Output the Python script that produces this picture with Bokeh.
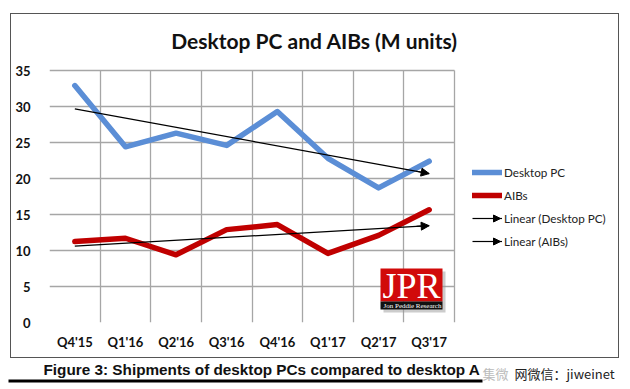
import numpy as np
from bokeh.plotting import figure
from bokeh.layouts import column
from bokeh.models import (Range1d, FixedTicker, Legend, LegendItem, Label, BoxAnnotation,
                          Arrow, NormalHead, ColumnDataSource, Grid, Plot)
from bokeh.embed import file_html
from bokeh.resources import INLINE

# ---- data ----
quarters = ["Q4'15", "Q1'16", "Q2'16", "Q3'16", "Q4'16", "Q1'17", "Q2'17", "Q3'17"]
desktop_pc = [32.9, 24.4, 26.3, 24.6, 29.3, 22.8, 18.7, 22.4]
aibs = [11.25, 11.7, 9.4, 12.9, 13.6, 9.6, 12.1, 15.65]
y_ticks = [0, 5, 10, 15, 20, 25, 30, 35]
series_names = ["Desktop PC", "AIBs", "Linear (Desktop PC)", "Linear (AIBs)"]
title_text = "Desktop PC and AIBs (M units)"
caption_text = "Figure 3: Shipments of desktop PCs compared to desktop A"
watermark_grey = "集微"
watermark_text = "网微信：jiweinet"

BLUE = "#5B8ED6"
RED = "#C00000"
GRID = "#A6A6A6"
FONT = "Lato"

# ---- geometry (window pixels) ----
W, H_MAIN, H_CAP = 630, 359, 30
FL, FB = 49, 322                 # frame left / bottom in main figure
AREA_R, AREA_T = 454, 70         # right / top edge of the gridded plot area
n = len(quarters)
px_per_cat = (AREA_R - FL) / n
px_per_unit = (FB - AREA_T) / y_ticks[-1]
HAS_FRAME_ALIGN = "frame_align" in Plot.properties()


def sx(X):
    return X - FL


def sy(Y):
    return FB - Y


xs = list(range(n))
x_start = -0.5
x_end = x_start + (W - FL) / px_per_cat
y_end = FB / px_per_unit

border_css = ("linear-gradient(#555,#555) 10px 13px/609px 1px no-repeat, "
              "linear-gradient(#555,#555) 10px 357px/609px 1px no-repeat, "
              "linear-gradient(#555,#555) 10px 13px/1px 345px no-repeat, "
              "linear-gradient(#555,#555) 618px 13px/1px 345px no-repeat, #ffffff")

p = figure(width=W, height=H_MAIN, output_backend="svg", toolbar_location=None, title=None,
           x_range=Range1d(x_start, x_end), y_range=Range1d(0, y_end),
           min_border_left=FL, min_border_right=0, min_border_top=0,
           min_border_bottom=H_MAIN - FB, styles={"background": border_css})
if HAS_FRAME_ALIGN:
    p.frame_align = False
p.background_fill_alpha = 0
p.border_fill_alpha = 0
p.outline_line_color = None

p.xaxis.ticker = FixedTicker(ticks=xs)
p.xaxis.major_label_overrides = {i: q for i, q in enumerate(quarters)}
p.yaxis.ticker = FixedTicker(ticks=y_ticks)
for ax in (p.xaxis[0], p.yaxis[0]):
    ax.axis_line_color = None
    ax.major_tick_line_color = None
    ax.minor_tick_line_color = None
    ax.major_tick_out = 0
    ax.major_tick_in = 0
    ax.minor_tick_out = 0
    ax.minor_tick_in = 0
    ax.major_label_text_font = FONT
    ax.major_label_text_font_style = "bold"
    ax.major_label_text_font_size = "13px"
    ax.major_label_text_color = "#111111"
p.yaxis.major_label_standoff = 19
p.xaxis.major_label_standoff = 11

boundaries = [i - 0.5 for i in range(n + 1)]
if "cross_bounds" in Grid.properties():
    p.xgrid.ticker = FixedTicker(ticks=boundaries)
    p.xgrid.cross_bounds = (0, y_ticks[-1])
    p.ygrid.ticker = FixedTicker(ticks=y_ticks)
    p.ygrid.cross_bounds = (boundaries[0], boundaries[-1])
    p.grid.grid_line_color = GRID
    p.grid.grid_line_width = 1.3
else:
    p.grid.visible = False
    p.segment(x0=boundaries, x1=boundaries, y0=[0] * len(boundaries),
              y1=[y_ticks[-1]] * len(boundaries), line_color=GRID, line_width=1.3)
    p.segment(x0=[boundaries[0]] * len(y_ticks), x1=[boundaries[-1]] * len(y_ticks),
              y0=y_ticks, y1=y_ticks, line_color=GRID, line_width=1.3)

src = ColumnDataSource(dict(x=xs, pc=desktop_pc, aib=aibs))
r_pc = p.line("x", "pc", source=src, line_color=BLUE, line_width=5.5,
              line_join="round", line_cap="round")
r_aib = p.line("x", "aib", source=src, line_color=RED, line_width=5.5,
               line_join="round", line_cap="round")

# linear trend lines (least squares fit of each series)
kp, bp = np.polyfit(xs, desktop_pc, 1)
ka, ba = np.polyfit(xs, aibs, 1)
x0, x1 = xs[0], xs[-1]
t_pc = p.line([x0, x1], [kp * x0 + bp, kp * x1 + bp], line_color="black", line_width=1.2)
t_aib = p.line([x0, x1], [ka * x0 + ba, ka * x1 + ba], line_color="black", line_width=1.2)
for k, b in ((kp, bp), (ka, ba)):
    xa = x1 - 0.25
    p.add_layout(Arrow(end=NormalHead(size=8, fill_color="black", line_color="black"),
                       x_start=xa, y_start=k * xa + b, x_end=x1, y_end=k * x1 + b,
                       line_color="black", line_width=1.2))

# legend (inside the frame, right of the gridded area)
legend = Legend(items=[LegendItem(label=series_names[0], renderers=[r_pc]),
                       LegendItem(label=series_names[1], renderers=[r_aib]),
                       LegendItem(label=series_names[2], renderers=[t_pc]),
                       LegendItem(label=series_names[3], renderers=[t_aib])],
                location=(sx(472), sy(251)), padding=0, margin=0, spacing=3,
                glyph_width=30, glyph_height=20, label_height=20, label_standoff=2,
                background_fill_alpha=0, border_line_color=None,
                label_text_font=FONT, label_text_font_size="11.7px",
                label_text_color="#222222")
p.add_layout(legend)
for Y in (218, 241):
    p.add_layout(Arrow(end=NormalHead(size=7, fill_color="black", line_color="black"),
                       start_units="screen", end_units="screen",
                       x_start=sx(492), y_start=sy(Y), x_end=sx(500), y_end=sy(Y),
                       line_color="black", line_width=1))

# title
p.add_layout(Label(x=sx(314), y=sy(40), x_units="screen", y_units="screen",
                   text=title_text, text_align="center", text_baseline="middle",
                   text_font=FONT, text_font_style="bold", text_font_size="21px",
                   text_color="#111111"))


# JPR logo
def sbox(l, r, t, b, **kw):
    return BoxAnnotation(left=sx(l), right=sx(r), top=sy(t), bottom=sy(b),
                         left_units="screen", right_units="screen",
                         top_units="screen", bottom_units="screen", line_color=None, **kw)


p.add_layout(sbox(383, 445, 271, 312, fill_color="#999999", fill_alpha=0.5))
p.add_layout(sbox(380, 442, 268, 301, fill_color="#D10A0A", fill_alpha=1))
p.add_layout(sbox(380, 442, 301, 309, fill_color="#111111", fill_alpha=1))
p.add_layout(Label(x=sx(411), y=sy(285), x_units="screen", y_units="screen",
                   text="JPR", text_align="center", text_baseline="middle",
                   text_font="Liberation Serif", text_font_size="36px", text_color="white"))
p.add_layout(Label(x=sx(412), y=sy(305), x_units="screen", y_units="screen",
                   text="Jon Peddie Research", text_align="center", text_baseline="middle",
                   text_font="Liberation Sans Narrow", text_font_size="7px", text_color="white"))

# ---- caption strip ----
c = figure(width=W, height=H_CAP, output_backend="svg", toolbar_location=None, title=None,
           x_range=Range1d(0, W), y_range=Range1d(0, H_CAP),
           x_axis_location=None, y_axis_location=None,
           min_border_left=0, min_border_right=0, min_border_top=0, min_border_bottom=0)
if HAS_FRAME_ALIGN:
    c.frame_align = False
    CX = 0
else:
    CX = FL
c.grid.visible = False
c.outline_line_color = None
c.background_fill_color = "white"
c.border_fill_color = "white"


def cy(Y):
    return H_MAIN + H_CAP - Y


c.add_layout(Label(x=43 - CX, y=cy(369), x_units="screen", y_units="screen",
                   text=caption_text, text_align="left", text_baseline="middle",
                   text_font="Liberation Sans", text_font_style="bold", text_font_size="15.3px",
                   text_color="#111111"))
c.add_layout(BoxAnnotation(left=8 - CX, right=482 - CX, top=cy(379), bottom=cy(382),
                           left_units="screen", right_units="screen",
                           top_units="screen", bottom_units="screen",
                           fill_color="black", fill_alpha=1, line_color=None))
c.add_layout(Label(x=482 - CX, y=cy(373), x_units="screen", y_units="screen",
                   text=watermark_grey, text_align="left", text_baseline="middle",
                   text_font="Noto Sans CJK SC", text_font_size="13px", text_color="#BBBBBB"))
c.add_layout(Label(x=514 - CX, y=cy(373), x_units="screen", y_units="screen",
                   text=watermark_text, text_align="left", text_baseline="middle",
                   text_font="Noto Sans CJK SC", text_font_size="13px", text_color="#222222"))

root = column(p, c, spacing=0)
open("out.html", "w").write(file_html(root, INLINE))
